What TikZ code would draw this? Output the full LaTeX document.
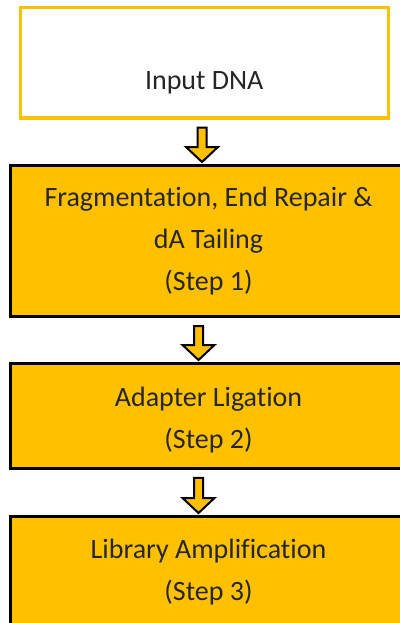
\documentclass[tikz,border=0pt]{standalone}
\usepackage{fontspec}
\setmainfont{Carlito}[Ligatures=NoCommon]
\usepackage{xcolor}
\usepackage{tikz}
\usetikzlibrary{calc}
\definecolor{gold}{HTML}{FFC000}
\definecolor{ink}{HTML}{262626}
\newcommand{\blockarrow}[3]{%
\draw[flowarrow] let \p1=(#1.south), \p2=(#2.north) in
  ({#3-4.5pt},{\y1-8pt}) -- ({#3+4.5pt},{\y1-8pt}) -- ({#3+4.5pt},{\y2+17pt})
  -- ({#3+16pt},{\y2+17pt}) -- (#3,{\y2+2pt}) -- ({#3-16pt},{\y2+17pt})
  -- ({#3-4.5pt},{\y2+17pt}) -- cycle;}

\begin{document}
\begin{tikzpicture}[x=1pt,y=-1pt]
\tikzstyle{stepbox}=[rectangle, draw=black, fill=gold, line width=3pt, align=center,
  text=ink, font=\fontsize{28}{41.7}\selectfont, minimum width=396pt, text depth=0pt]
\tikzstyle{inputbox}=[stepbox, draw=gold, fill=white, minimum width=368pt]
\tikzstyle{flowarrow}=[draw=black, fill=gold, line width=2pt, miter limit=20]
\useasboundingbox (0,0) rectangle (399,623);

\node[inputbox, minimum height=110.5pt, text height=54.5pt] (input) at (204.2,62.75) {Input DNA};
\node[stepbox, minimum height=151pt, text height=98pt] (frag) at (208.5,241)
  {Fragmentation, End Repair \&\\dA Tailing\\(Step 1)};
\node[stepbox, minimum height=104.8pt, text height=65pt] (ligation) at (208.5,415.9)
  {Adapter Ligation\\(Step 2)};
\node[stepbox, minimum height=120pt, text height=47pt] (amplify) at (208.5,576.5)
  {Library Amplification\\(Step 3)};

\blockarrow{input}{frag}{202pt}
\blockarrow{frag}{ligation}{198.5pt}
\blockarrow{ligation}{amplify}{198.5pt}
\end{tikzpicture}
\end{document}
